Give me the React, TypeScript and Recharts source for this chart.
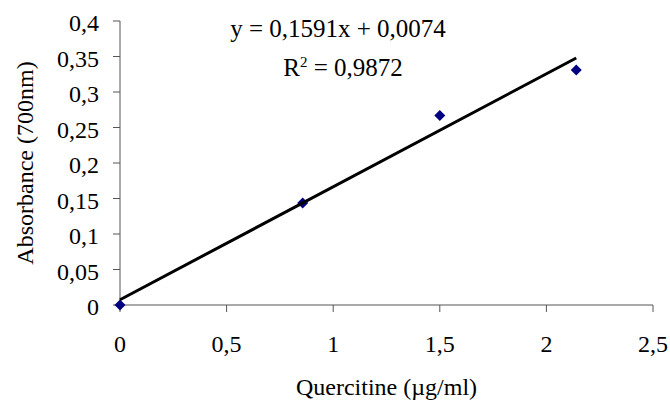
import React from 'react';
import { ScatterChart, Scatter, XAxis, YAxis, Label } from 'recharts';

const concentrations = [0, 0.857, 1.5, 2.14];
const absorbances = [0, 0.1435, 0.267, 0.331];
const xTicks = [0, 0.5, 1, 1.5, 2, 2.5];
const yTicks = [0, 0.05, 0.1, 0.15, 0.2, 0.25, 0.3, 0.35, 0.4];
const slope = 0.1591;
const intercept = 0.0074;
const rSquared = '0,9872';
const trendRange = [0, 2.14];

const points = concentrations.map((x, i) => ({ x, y: absorbances[i] }));
const trend = trendRange.map((x) => ({ x, y: slope * x + intercept }));

const FONT = "'Liberation Serif', 'Times New Roman', serif";
const fmt = (v: number) => String(v).replace('.', ',');

const renderXTick = (props: any) => {
  const { x, y, payload } = props;
  return (
    <text
      key={`xt-${payload.value}`}
      x={x}
      y={y}
      dy={17}
      textAnchor="middle"
      fontFamily={FONT}
      fontSize={24}
      fill="#000"
    >
      {fmt(payload.value)}
    </text>
  );
};

const renderYTick = (props: any) => {
  const { x, y, payload } = props;
  return (
    <text
      key={`yt-${payload.value}`}
      x={x}
      y={y}
      dy={10}
      textAnchor="end"
      fontFamily={FONT}
      fontSize={24}
      fill="#000"
    >
      {fmt(payload.value)}
    </text>
  );
};

const Diamond = (props: any) => {
  const { cx, cy } = props;
  const r = 5.5;
  return (
    <polygon
      points={`${cx},${cy - r} ${cx + r},${cy} ${cx},${cy + r} ${cx - r},${cy}`}
      fill="#000080"
    />
  );
};

const YTitle = (props: any) => {
  const vb = props.viewBox;
  const cx = vb.x + 33;
  const cy = vb.y + vb.height / 2;
  return (
    <text
      x={cx}
      y={cy}
      transform={`rotate(-90 ${cx} ${cy})`}
      textAnchor="middle"
      fontFamily={FONT}
      fontSize={24}
      fill="#000"
    >
      Absorbance (700nm)
    </text>
  );
};

const XTitle = (props: any) => {
  const vb = props.viewBox;
  const cx = vb.x + vb.width / 2;
  const cy = vb.y + vb.height - 6;
  return (
    <text x={cx} y={cy} textAnchor="middle" fontFamily={FONT} fontSize={24} fill="#000">
      Quercitine (µg/ml)
    </text>
  );
};

export default function App() {
  return (
    <div
      style={{
        position: 'absolute',
        left: 0,
        top: 0,
        width: 670,
        height: 401,
        background: '#fff',
        fontFamily: FONT,
      }}
    >
      <ScatterChart width={670} height={401} margin={{ top: 21, right: 17, bottom: 0, left: 0 }}>
        <XAxis
          type="number"
          dataKey="x"
          domain={[0, 2.5]}
          ticks={xTicks}
          height={96}
          tickSize={7}
          tickMargin={23}
          stroke="#555"
          tick={renderXTick}
        >
          <Label content={XTitle} />
        </XAxis>
        <YAxis
          type="number"
          dataKey="y"
          domain={[0, 0.4]}
          ticks={yTicks}
          width={120}
          tickSize={7}
          tickMargin={14}
          stroke="#555"
          tick={renderYTick}
        >
          <Label content={YTitle} />
        </YAxis>
        <Scatter data={points} shape={Diamond} isAnimationActive={false} />
        <Scatter
          data={trend}
          line={{ stroke: '#000', strokeWidth: 3 }}
          shape={() => null}
          isAnimationActive={false}
        />
      </ScatterChart>
      <svg
        width={670}
        height={401}
        style={{ position: 'absolute', left: 0, top: 0, pointerEvents: 'none' }}
      >
        <text x={338} y={37} textAnchor="middle" fontFamily={FONT} fontSize={25} fill="#000">
          {`y = ${fmt(slope)}x + ${fmt(intercept)}`}
        </text>
        <text x={343} y={76} textAnchor="middle" fontFamily={FONT} fontSize={25} fill="#000">
          R<tspan dy={-9} fontSize={15}>2</tspan>
          <tspan dy={9}>{` = ${rSquared}`}</tspan>
        </text>
      </svg>
    </div>
  );
}
